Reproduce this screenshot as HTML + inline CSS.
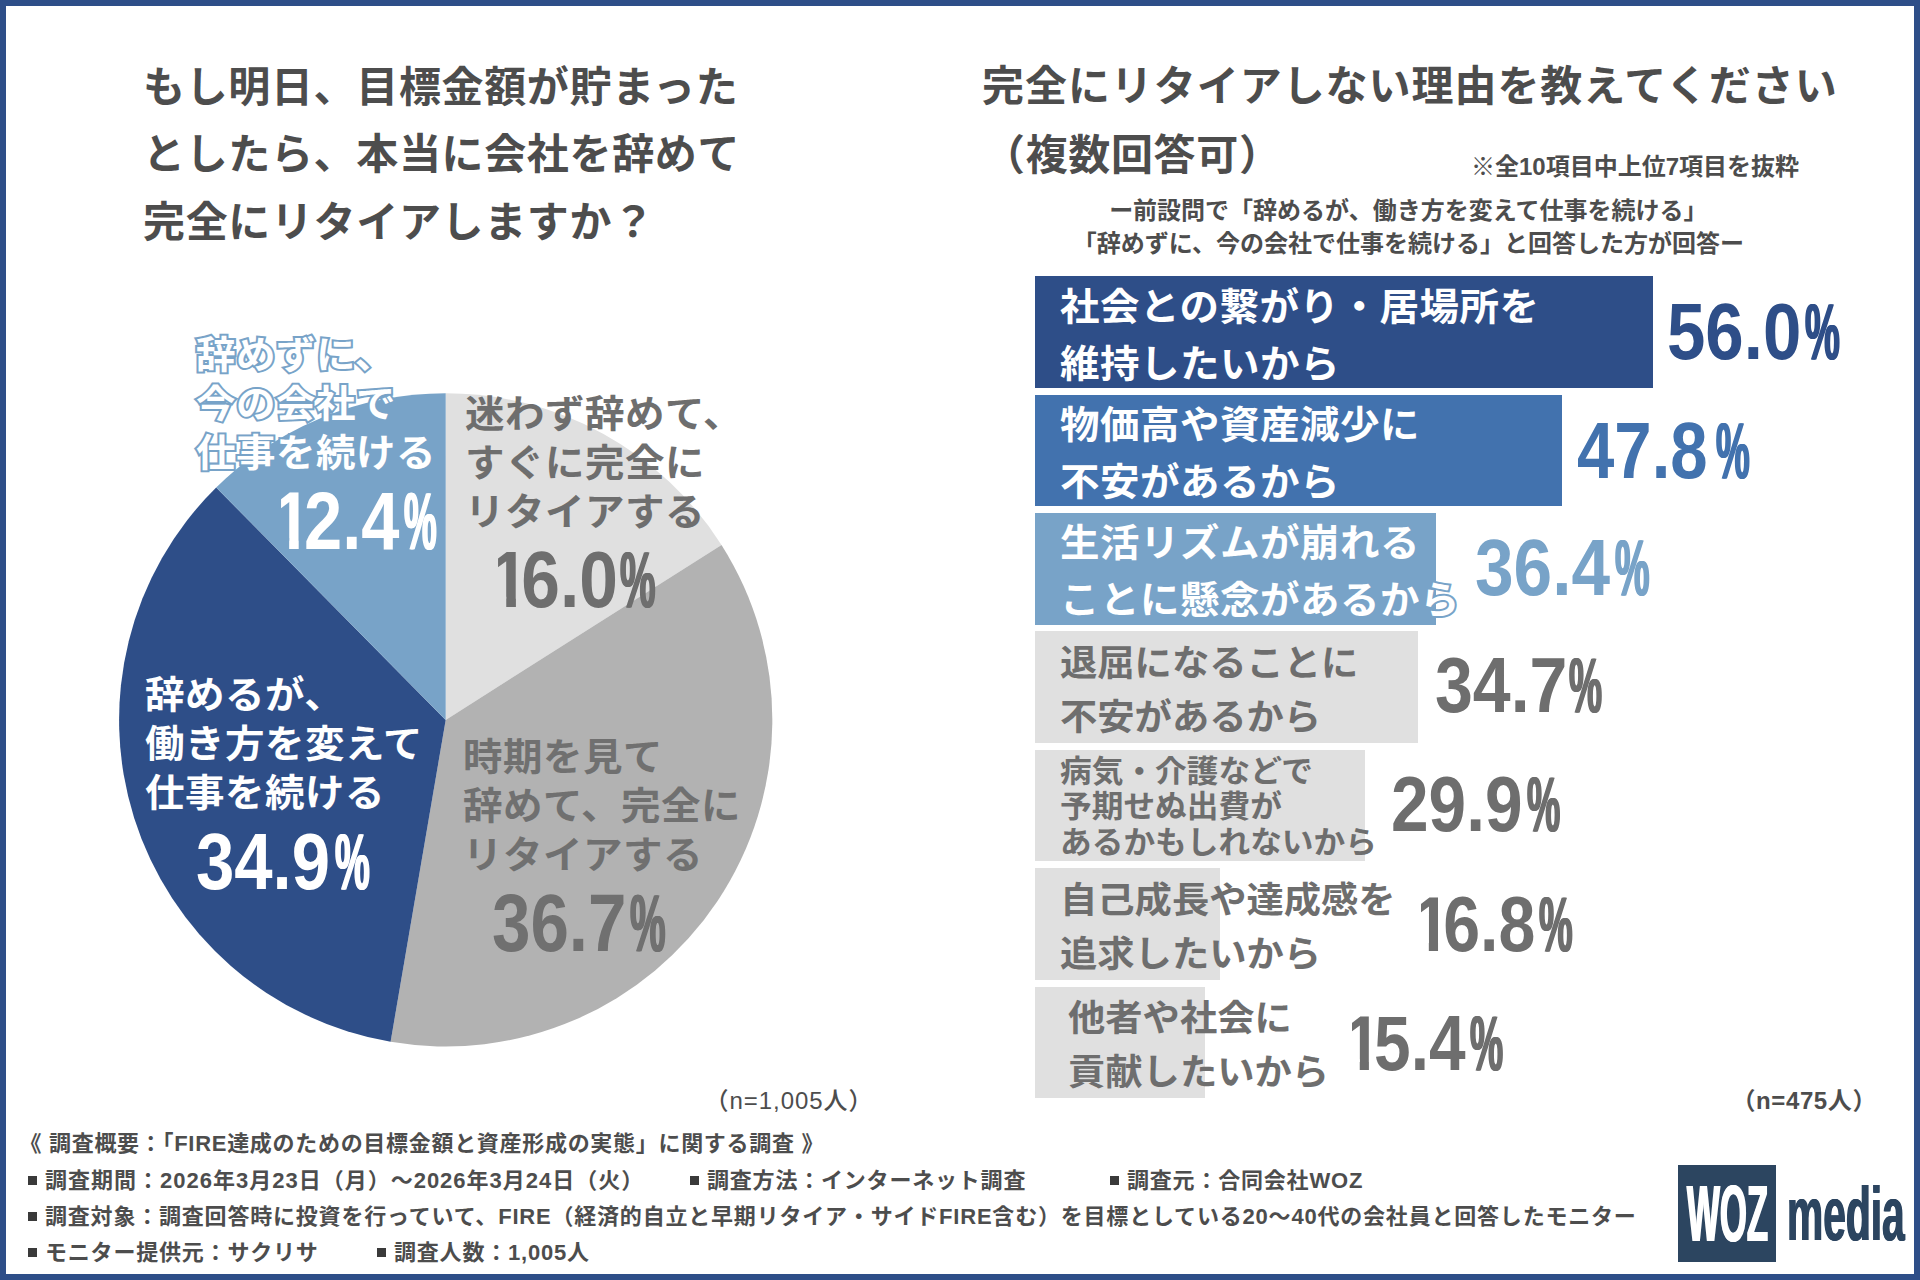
<!DOCTYPE html>
<html lang="ja">
<head>
<meta charset="utf-8">
<title>FIRE達成のための目標金額と資産形成の実態</title>
<style>
*{box-sizing:border-box;margin:0;padding:0}
html,body{width:1920px;height:1280px;overflow:hidden;background:#fff}
body{position:relative;font-family:"Liberation Sans","Noto Sans CJK JP",sans-serif;color:#4d4d4d;font-weight:700}
.frame{position:absolute;left:0;top:0;width:1920px;height:1280px;border:6px solid #2e4e88;pointer-events:none;z-index:50}
.t{position:absolute;white-space:nowrap}
.title{font-size:42px;line-height:67.7px;letter-spacing:.65px;font-weight:700;color:#4d4d4d}
.sub{font-size:24px;line-height:33.3px;text-align:center}
.note{font-size:24px;line-height:30px}
.bar{position:absolute;left:1035px;height:111.8px}
.lab{font-size:39.5px;letter-spacing:.5px;line-height:58.8px;color:#fff;transform-origin:0 0;transform:scaleY(.96)}
.lab.g{color:#6e6e6e;font-size:37.3px;line-height:55.7px;letter-spacing:0}
.num{position:absolute;white-space:nowrap;font-family:"Liberation Sans",sans-serif;font-weight:700;line-height:1}
.num .d{display:inline-block;transform-origin:0 0}
.num .p{position:absolute;top:0;transform-origin:0 0;text-shadow:1.6px 0 0,-1.6px 0 0}
.num .o{display:inline-block;width:.45em;margin-left:-.1em;clip-path:polygon(.115em 0,.372em 0,.372em 100%,.233em 100%,.233em .71em,.115em .71em)}
.pl{font-size:39.5px;letter-spacing:.5px;line-height:50.9px;transform-origin:0 0;transform:scaleY(.955)}
.foot{font-size:22px;line-height:36px;font-weight:700;color:#4d4d4d;letter-spacing:.8px}
.sq{display:inline-block;width:9px;height:9px;background:#3a3a3a;vertical-align:middle;position:relative;top:-2px;margin-right:8px}
</style>
</head>
<body>
<div class="frame"></div>

<!-- left title -->
<div class="t title" id="lt" style="left:143px;top:53.6px">もし明日、目標金額が貯まった<br>としたら、本当に会社を辞めて<br>完全にリタイアしますか？</div>

<!-- pie -->
<svg style="position:absolute;left:0;top:0" width="960" height="1100" viewBox="0 0 960 1100">
<path d="M445.7 719.9L445.7 393.3A326.6 326.6 0 0 1 721.5 544.9Z" fill="#e0e0e0"/>
<path d="M445.7 719.9L721.5 544.9A326.6 326.6 0 0 1 390.6 1041.8Z" fill="#b2b2b2"/>
<path d="M445.7 719.9L390.6 1041.8A326.6 326.6 0 0 1 216.2 487.5Z" fill="#2e4e88"/>
<path d="M445.7 719.9L216.2 487.5A326.6 326.6 0 0 1 445.7 393.3Z" fill="#78a3c8"/>
</svg>

<div class="t pl" id="pl1" style="left:196px;top:330.8px;color:#fff;-webkit-text-stroke:4.2px #78a3c8;paint-order:stroke fill">辞めずに、<br>今の会社で<br>仕事を続ける</div>
<div class="t pl" id="pl2" style="left:465px;top:390.3px;color:#6e6e6e">迷わず辞めて、<br>すぐに完全に<br>リタイアする</div>
<div class="t pl" id="pl3" style="left:463px;top:733.2px;color:#707070">時期を見て<br>辞めて、完全に<br>リタイアする</div>
<div class="t pl" id="pl4" style="left:145px;top:670.7px;color:#fff">辞めるが、<br>働き方を変えて<br>仕事を続ける</div>

<div class="t note" id="n1" style="left:704.5px;top:1086px;font-weight:500;letter-spacing:.95px">（n=1,005人）</div>

<!-- right title -->
<div class="t title" id="rt1" style="left:982px;top:53.2px;letter-spacing:.95px">完全にリタイアしない理由を教えてください</div>
<div class="t title" id="rt2" style="left:983px;top:121.6px">（複数回答可）</div>
<div class="t note" id="n2" style="left:1471px;top:152px">※全10項目中上位7項目を抜粋</div>
<div class="t sub" id="sub" style="left:1008.3px;width:800px;top:193.6px">ー前設問で「辞めるが、働き方を変えて仕事を続ける」<br>「辞めずに、今の会社で仕事を続ける」と回答した方が回答ー</div>

<!-- bars -->
<div class="bar" style="top:276.1px;width:617.5px;background:#2e4e88"></div>
<div class="bar" style="top:394.5px;width:527px;background:#4272ae"></div>
<div class="bar" style="top:512.9px;width:401.3px;background:#78a3c8"></div>
<div class="bar" style="top:631.3px;width:382.6px;background:#e0e0e0"></div>
<div class="bar" style="top:749.7px;width:329.6px;background:#e0e0e0"></div>
<div class="bar" style="top:868.1px;width:185.2px;background:#e0e0e0"></div>
<div class="bar" style="top:986.5px;width:169.8px;background:#e0e0e0"></div>

<div class="t lab" id="b1" style="left:1060px;top:278.5px">社会との繋がり・居場所を<br>維持したいから</div>
<div class="t lab" id="b2" style="left:1060px;top:397.4px">物価高や資産減少に<br>不安があるから</div>
<div class="t lab" id="b3" style="left:1060px;top:515px;-webkit-text-stroke:4.2px #78a3c8;paint-order:stroke fill">生活リズムが崩れる<br>ことに懸念があるから</div>
<div class="t lab g" id="b4" style="left:1060px;top:637.5px">退屈になることに<br>不安があるから</div>
<div class="t lab g" id="b5" style="left:1060px;top:754.3px;font-size:31.7px;line-height:37.1px">病気・介護などで<br>予期せぬ出費が<br>あるかもしれないから</div>
<div class="t lab g" id="b6" style="left:1060px;top:875px">自己成長や達成感を<br>追求したいから</div>
<div class="t lab g" id="b7" style="left:1068px;top:993.3px">他者や社会に<br>貢献したいから</div>

<div class="num" id="pn1" style="left:279.6px;top:480.3px;font-size:81.4px;color:#fff"><span class="d" style="transform:scaleX(0.844)"><span class="o">1</span>2.4</span><span class="p" style="left:124.8px;transform:scaleX(0.451)">%</span></div>
<div class="num" id="pn2" style="left:496.9px;top:540.1px;font-size:79.9px;color:#6e6e6e"><span class="d" style="transform:scaleX(0.870)"><span class="o">1</span>6.0</span><span class="p" style="left:122.8px;transform:scaleX(0.500)">%</span></div>
<div class="num" id="pn3" style="left:492.4px;top:883.0px;font-size:80.8px;color:#707070"><span class="d" style="transform:scaleX(0.855)">36.7</span><span class="p" style="left:138.1px;transform:scaleX(0.495)">%</span></div>
<div class="num" id="pn4" style="left:195.8px;top:820.7px;font-size:80.1px;color:#fff"><span class="d" style="transform:scaleX(0.860)">34.9</span><span class="p" style="left:139.0px;transform:scaleX(0.488)">%</span></div>
<div class="num" id="bn1" style="left:1667.3px;top:291.1px;font-size:80.4px;color:#2e4e88"><span class="d" style="transform:scaleX(0.858)">56.0</span><span class="p" style="left:137.5px;transform:scaleX(0.487)">%</span></div>
<div class="num" id="bn2" style="left:1577.4px;top:410.7px;font-size:79.9px;color:#4272ae"><span class="d" style="transform:scaleX(0.840)">47.8</span><span class="p" style="left:139.1px;transform:scaleX(0.475)">%</span></div>
<div class="num" id="bn3" style="left:1475.2px;top:528.4px;font-size:79.9px;color:#78a3c8"><span class="d" style="transform:scaleX(0.868)">36.4</span><span class="p" style="left:139.8px;transform:scaleX(0.486)">%</span></div>
<div class="num" id="bn4" style="left:1434.5px;top:646.4px;font-size:78.1px;color:#6e6e6e"><span class="d" style="transform:scaleX(0.871)">34.7</span><span class="p" style="left:134.8px;transform:scaleX(0.476)">%</span></div>
<div class="num" id="bn5" style="left:1391.0px;top:765.3px;font-size:78.2px;color:#6e6e6e"><span class="d" style="transform:scaleX(0.864)">29.9</span><span class="p" style="left:136.0px;transform:scaleX(0.479)">%</span></div>
<div class="num" id="bn6" style="left:1419.7px;top:884.5px;font-size:78.1px;color:#6e6e6e"><span class="d" style="transform:scaleX(0.849)"><span class="o">1</span>6.8</span><span class="p" style="left:119.4px;transform:scaleX(0.484)">%</span></div>
<div class="num" id="bn7" style="left:1350.5px;top:1003.8px;font-size:78.0px;color:#6e6e6e"><span class="d" style="transform:scaleX(0.844)"><span class="o">1</span>5.4</span><span class="p" style="left:119.3px;transform:scaleX(0.478)">%</span></div>

<div class="t note" id="n3" style="left:1731.5px;top:1085.8px;letter-spacing:.6px">（n=475人）</div>

<!-- footer -->
<div class="t foot" id="f1" style="left:19.5px;letter-spacing:.7px;top:1126.4px">《 調査概要：「FIRE達成のための目標金額と資産形成の実態」に関する調査 》</div>
<div class="t foot" id="f2" style="left:28px;letter-spacing:1px;top:1163.4px"><span class="sq"></span>調査期間：2026年3月23日（月）〜2026年3月24日（火）</div>
<div class="t foot" id="f2b" style="left:690px;top:1163.4px"><span class="sq"></span>調査方法：インターネット調査</div>
<div class="t foot" id="f2c" style="left:1110px;top:1163.4px"><span class="sq"></span>調査元：合同会社WOZ</div>
<div class="t foot" id="f3" style="left:28px;top:1199.4px"><span class="sq"></span>調査対象：調査回答時に投資を行っていて、FIRE（経済的自立と早期リタイア・サイドFIRE含む）を目標としている20〜40代の会社員と回答したモニター</div>
<div class="t foot" id="f4" style="left:28px;top:1235.4px"><span class="sq"></span>モニター提供元：サクリサ</div>
<div class="t foot" id="f4b" style="left:377px;top:1235.4px"><span class="sq"></span>調査人数：1,005人</div>

<!-- logo -->
<div style="position:absolute;left:1678px;top:1165px;width:97.5px;height:97px;background:#2c4560"></div>
<div class="t" id="lg1" style="left:1687px;top:1172.5px;font-size:80.5px;line-height:1;color:#fff;text-shadow:1.6px 0 0,-1.6px 0 0;transform-origin:0 0;transform:scaleX(.432)">WOZ</div>
<div class="t" id="lg2" style="left:1786.5px;top:1176px;font-size:76px;line-height:1;color:#2c4560;text-shadow:1px 0 0,-1px 0 0;transform-origin:0 0;transform:scaleX(.536)">media</div>

</body>
</html>
